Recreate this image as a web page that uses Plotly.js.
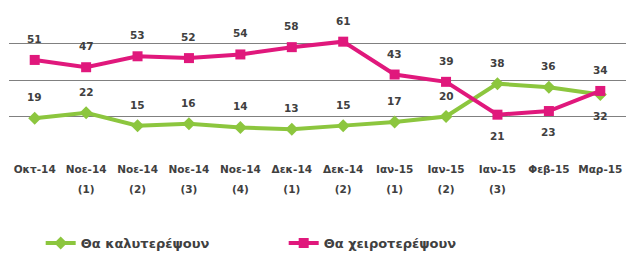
<!DOCTYPE html>
<html><head><meta charset="utf-8">
<script src="https://cdn.plot.ly/plotly-3.0.1.min.js"></script>
<style>html,body{margin:0;padding:0;background:#fff}#chart{width:626px;height:267px}</style>
</head><body><div id="chart"></div>
<script>
const categories = ['Οκτ-14','Νοε-14<br>(1)','Νοε-14<br>(2)','Νοε-14<br>(3)','Νοε-14<br>(4)','Δεκ-14<br>(1)','Δεκ-14<br>(2)','Ιαν-15<br>(1)','Ιαν-15<br>(2)','Ιαν-15<br>(3)','Φεβ-15','Μαρ-15'];
const better = [19,22,15,16,14,13,15,17,20,38,36,32];
const worse = [51,47,53,52,54,58,61,43,39,21,23,34];
const betterName = 'Θα καλυτερέψουν';
const worseName = 'Θα χειροτερέψουν';
const betterLabelSide = [1,1,1,1,1,1,1,1,1,1,1,-1];
const worseLabelSide = [1,1,1,1,1,1,1,1,1,-1,-1,1];

const green = '#8CC63E', pink = '#E0187C';
const tickText = categories.map(c => c.split('<br>').map(s => '<span style="font-size:10.5px">' + s + '</span>').join('<br>'));
const traces = [
  {x: categories, y: better, name: betterName, type:'scatter', mode:'lines+markers',
   line:{color:green, width:4}, marker:{symbol:'diamond', size:10, color:green}},
  {x: categories, y: worse, name: worseName, type:'scatter', mode:'lines+markers',
   line:{color:pink, width:4}, marker:{symbol:'square', size:10, color:pink}}
];
const annotations = [];
function addLabels(vals, sides){
  vals.forEach((v,i)=>annotations.push({x:categories[i], y:v, text:String(v), showarrow:false,
    yshift: 21*sides[i], font:{family:'DejaVu Sans', size:10.5, color:'#404040', weight:'bold'}}));
}
addLabels(better, betterLabelSide);
addLabels(worse, worseLabelSide);

const layout = {
  width:626, height:267, margin:{l:9, r:0, t:7, b:114},
  paper_bgcolor:'#fff', plot_bgcolor:'#fff', showlegend:true,
  xaxis:{type:'category', range:[-0.5,11.5], showgrid:false, zeroline:false, showline:false,
    tickmode:'array', tickvals:categories, ticktext:tickText, ticklabelstandoff:4,
    ticks:'', tickfont:{family:'DejaVu Sans', size:15, color:'#404040', weight:'bold'}, tickangle:0},
  yaxis:{range:[0,80], dtick:20, showgrid:true, gridcolor:'#808080', gridwidth:1, zeroline:false,
    showticklabels:false, showline:false, ticks:''},
  legend:{orientation:'h', xref:'container', yref:'container', x:0.065, y:0.09, yanchor:'middle',
    entrywidth:198, entrywidthmode:'pixels',
    font:{family:'DejaVu Sans', size:13, color:'#404040', weight:'bold'}},
  annotations: annotations
};
Plotly.newPlot('chart', traces, layout, {displayModeBar:false, staticPlot:true});
</script></body></html>
